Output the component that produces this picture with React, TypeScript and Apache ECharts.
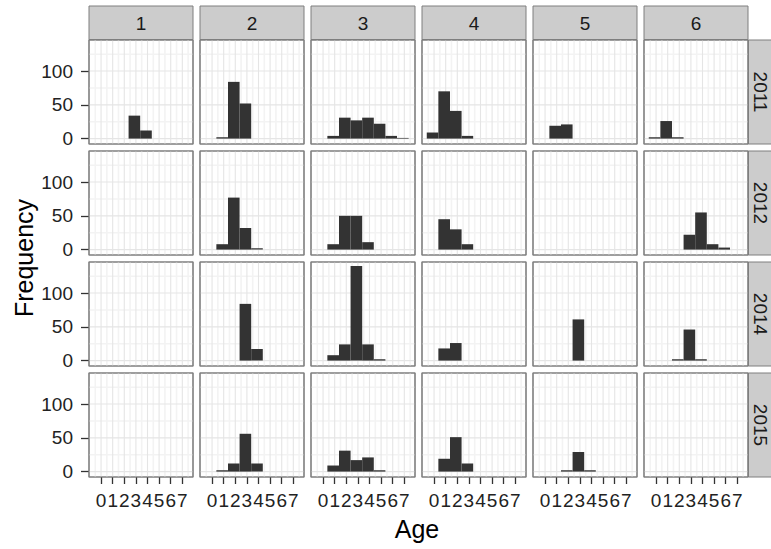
import React, { useEffect, useRef } from "react";
import * as echarts from "echarts";

const AGES = [0, 1, 2, 3, 4, 5, 6, 7];
const COL_LABELS = ["1", "2", "3", "4", "5", "6"];
const ROW_LABELS = ["2011", "2012", "2014", "2015"];
const Y_TICKS = [0, 50, 100];
const X_MAJOR = [0, 1, 2, 3, 4, 5, 6, 7];
const X_MINOR = [-0.5, 0.5, 1.5, 2.5, 3.5, 4.5, 5.5, 6.5, 7.5];
const Y_MAJOR = [0, 50, 100];
const Y_MINOR = [25, 75, 125];

// counts per age (0..7), one array per facet column
const counts2011 = [
  [0, 0, 0, 34, 12, 0, 0, 0],
  [0, 2, 84, 52, 0, 0, 0, 0],
  [0, 4, 31, 27, 31, 22, 4, 1],
  [9, 70, 41, 4, 0, 0, 0, 0],
  [0, 19, 21, 0, 0, 0, 0, 0],
  [2, 26, 2, 0, 0, 0, 0, 0],
];
const counts2012 = [
  [0, 0, 0, 0, 0, 0, 0, 0],
  [0, 8, 77, 32, 2, 0, 0, 0],
  [0, 8, 50, 50, 11, 0, 0, 0],
  [0, 45, 30, 8, 0, 0, 0, 0],
  [0, 0, 0, 0, 0, 0, 0, 0],
  [0, 0, 0, 22, 55, 8, 3, 0],
];
const counts2014 = [
  [0, 0, 0, 0, 0, 0, 0, 0],
  [0, 0, 0, 84, 17, 0, 0, 0],
  [0, 8, 24, 140, 24, 2, 0, 0],
  [0, 18, 26, 0, 0, 0, 0, 0],
  [0, 0, 0, 61, 0, 0, 0, 0],
  [0, 0, 2, 46, 2, 0, 0, 0],
];
const counts2015 = [
  [0, 0, 0, 0, 0, 0, 0, 0],
  [0, 2, 12, 56, 12, 0, 0, 0],
  [0, 9, 31, 17, 21, 2, 0, 0],
  [0, 19, 51, 12, 0, 0, 0, 0],
  [0, 0, 2, 29, 2, 0, 0, 0],
  [0, 0, 0, 0, 0, 0, 0, 0],
];
const ALL_COUNTS = [counts2011, counts2012, counts2014, counts2015];

const BIN_LO = -0.63;
const BIN_HI = 0.37;
const X_MIN = -1.04;
const X_MAX = 7.92;
const Y_MIN = -8;
const Y_MAX = 146;

const FONT = "'Liberation Sans', Arial, sans-serif";
const PANEL_LEFT0 = 89;
const PANEL_TOP0 = 40;
const PANEL_STEP = 111;
const PANEL_W = 104;
const PANEL_H = 104;

export default function App() {
  const ref = useRef<HTMLDivElement>(null);

  useEffect(() => {
    if (!ref.current) return;
    const chart = echarts.init(ref.current, null, { renderer: "svg" });

    const grids: any[] = [];
    const xAxes: any[] = [];
    const yAxes: any[] = [];
    const series: any[] = [];
    const graphics: any[] = [];

    const gridLines = [
      ...X_MINOR.map((v) => [v, 1]),
      ...Y_MINOR.map((v) => [v, 3]),
      ...X_MAJOR.map((v) => [v, 0]),
      ...Y_MAJOR.map((v) => [v, 2]),
    ];

    ROW_LABELS.forEach((yr, r) => {
      COL_LABELS.forEach((cl, c) => {
        const idx = r * COL_LABELS.length + c;
        const left = PANEL_LEFT0 + c * PANEL_STEP;
        const top = PANEL_TOP0 + r * PANEL_STEP;
        grids.push({
          left,
          top,
          width: PANEL_W,
          height: PANEL_H,
          show: true,
          backgroundColor: "#ffffff",
          borderColor: "#7f7f7f",
          borderWidth: 1,
          containLabel: false,
        });
        const bottomRow = r === ROW_LABELS.length - 1;
        const leftCol = c === 0;
        xAxes.push({
          type: "value",
          gridIndex: idx,
          position: "bottom",
          min: X_MIN,
          max: X_MAX,
          show: true,
          axisLine: { show: false, onZero: false },
          splitLine: { show: false },
          axisTick: {
            show: bottomRow,
            customValues: X_MAJOR,
            length: 7,
            lineStyle: { color: "#333333", width: 1.3 },
          },
          axisLabel: {
            show: bottomRow,
            customValues: AGES,
            formatter: (v: number) => String(v),
            fontSize: 19,
            fontFamily: FONT,
            color: "#222222",
            margin: 14,
          },
        });
        yAxes.push({
          type: "value",
          gridIndex: idx,
          position: "left",
          min: Y_MIN,
          max: Y_MAX,
          show: true,
          axisLine: { show: false, onZero: false },
          splitLine: { show: false },
          axisTick: {
            show: leftCol,
            customValues: Y_TICKS,
            length: 8,
            lineStyle: { color: "#333333", width: 1.3 },
          },
          axisLabel: {
            show: leftCol,
            customValues: Y_TICKS,
            formatter: (v: number) => String(v),
            fontSize: 19,
            fontFamily: FONT,
            color: "#222222",
            margin: 16,
          },
        });
        series.push({
          type: "custom",
          xAxisIndex: idx,
          yAxisIndex: idx,
          clip: true,
          silent: true,
          data: gridLines,
          renderItem: (params: any, api: any) => {
            const v = api.value(0);
            const kind = api.value(1);
            const cs = params.coordSys;
            const color = kind % 2 === 0 ? "#e5e5e5" : "#f3f3f3";
            const width = kind % 2 === 0 ? 1.1 : 1.6;
            if (kind < 2) {
              const p = api.coord([v, 0]);
              if (p[0] < cs.x || p[0] > cs.x + cs.width) return { type: "group", children: [] };
              return {
                type: "line",
                shape: { x1: p[0], y1: cs.y, x2: p[0], y2: cs.y + cs.height },
                style: { stroke: color, lineWidth: width },
              };
            }
            const p = api.coord([0, v]);
            if (p[1] < cs.y || p[1] > cs.y + cs.height) return { type: "group", children: [] };
            return {
              type: "line",
              shape: { x1: cs.x, y1: p[1], x2: cs.x + cs.width, y2: p[1] },
              style: { stroke: color, lineWidth: width },
            };
          },
        });
        const counts = ALL_COUNTS[r][c];
        series.push({
          type: "custom",
          xAxisIndex: idx,
          yAxisIndex: idx,
          clip: true,
          silent: true,
          data: AGES.map((a, i) => [a, counts[i]]),
          renderItem: (params: any, api: any) => {
            const a = api.value(0);
            const n = api.value(1);
            if (!n) return { type: "group", children: [] };
            const p0 = api.coord([a + BIN_LO, n]);
            const p1 = api.coord([a + BIN_HI, 0]);
            return {
              type: "rect",
              shape: { x: p0[0], y: p0[1], width: p1[0] - p0[0], height: p1[1] - p0[1] },
              style: { fill: "#333333" },
            };
          },
        });
        if (r === 0) {
          graphics.push({
            type: "rect",
            shape: { x: left, y: 6, width: PANEL_W, height: 33.5 },
            style: { fill: "#cccccc", stroke: "#7f7f7f", lineWidth: 1 },
          });
          graphics.push({
            type: "text",
            x: left + PANEL_W / 2,
            y: 23,
            style: {
              text: cl,
              fontSize: 19,
              fontFamily: FONT,
              fill: "#1a1a1a",
              align: "center",
              verticalAlign: "middle",
            },
          });
        }
        if (c === COL_LABELS.length - 1) {
          graphics.push({
            type: "rect",
            shape: { x: left + PANEL_W + 0.5, y: top, width: 24, height: PANEL_H },
            style: { fill: "#cccccc", stroke: "#7f7f7f", lineWidth: 1 },
          });
          graphics.push({
            type: "text",
            x: left + PANEL_W + 12,
            y: top + PANEL_H / 2,
            rotation: -Math.PI / 2,
            style: {
              text: yr,
              fontSize: 19,
              fontFamily: FONT,
              fill: "#1a1a1a",
              align: "center",
              verticalAlign: "middle",
            },
          });
        }
        graphics.push({
          type: "rect",
          z: 100,
          shape: { x: left, y: top, width: PANEL_W, height: PANEL_H },
          style: { fill: "none", stroke: "#7f7f7f", lineWidth: 1.2 },
        });
      });
    });

    graphics.push({
      type: "text",
      x: 417,
      y: 529,
      style: {
        text: "Age",
        fontSize: 25,
        fontFamily: FONT,
        fill: "#000000",
        align: "center",
        verticalAlign: "middle",
      },
    });
    graphics.push({
      type: "text",
      x: 24,
      y: 258,
      rotation: Math.PI / 2,
      style: {
        text: "Frequency",
        fontSize: 25,
        fontFamily: FONT,
        fill: "#000000",
        align: "center",
        verticalAlign: "middle",
      },
    });

    chart.setOption({
      animation: false,
      backgroundColor: "#ffffff",
      grid: grids,
      xAxis: xAxes,
      yAxis: yAxes,
      series,
      graphic: graphics,
    });

    return () => chart.dispose();
  }, []);

  return (
    <div
      ref={ref}
      style={{ position: "absolute", left: 0, top: 0, width: 771, height: 549 }}
    />
  );
}
